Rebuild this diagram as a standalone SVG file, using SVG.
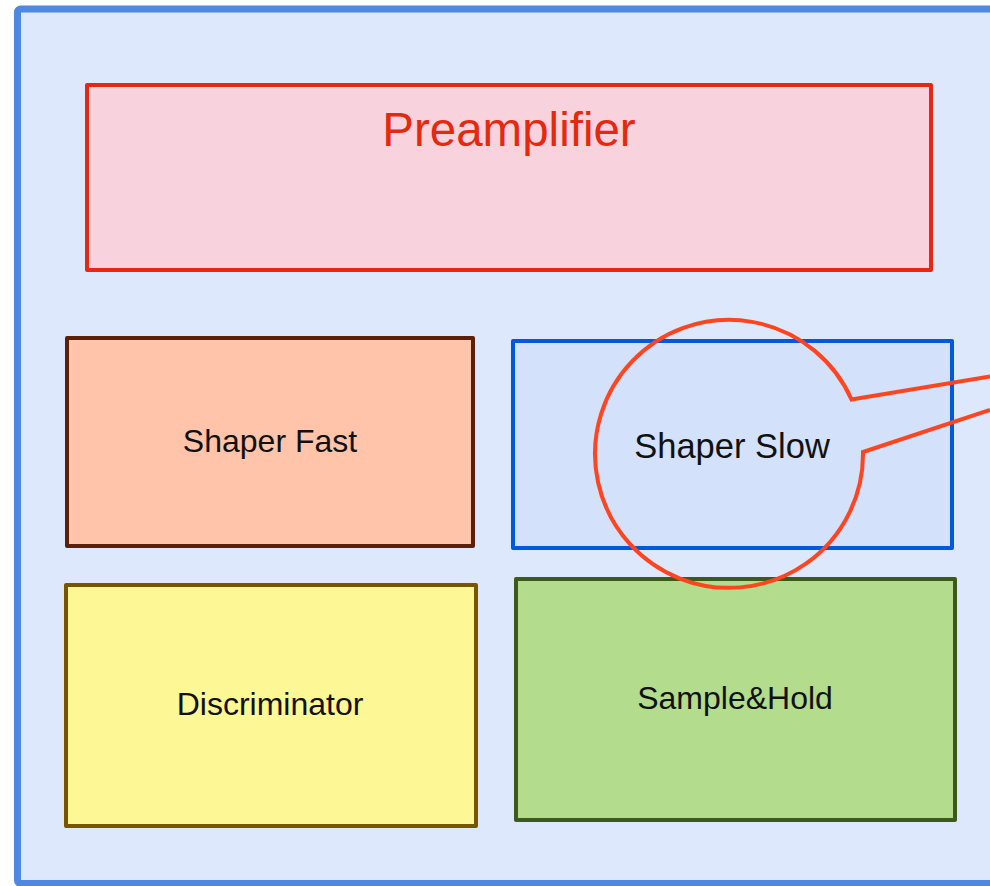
<svg xmlns="http://www.w3.org/2000/svg" width="990" height="886" viewBox="0 0 990 886">
  <style>
    .box { stroke-width: 4; stroke-linejoin: round; }
    .lbl { font-family: "Liberation Sans", Arial, sans-serif; font-size: 32px; fill: #111; text-anchor: middle; }
    .title { font-family: "Liberation Sans", Arial, sans-serif; font-size: 47.5px; fill: #e5290f; text-anchor: middle; }
    .callout { fill: none; stroke: #ff4520; stroke-width: 4; stroke-linejoin: miter; }
  </style>
  <rect width="990" height="886" fill="#ffffff"/>
  <!-- outer frame -->
  <rect x="17.5" y="9" width="990" height="874.5" rx="3" fill="#dde8fc" stroke="#4f88e0" stroke-width="7"/>

  <g id="preamplifier">
    <rect class="box" x="87" y="85" width="844" height="185" fill="#f8d3de" stroke="#e5290f"/>
    <text class="title" x="509" y="146">Preamplifier</text>
  </g>

  <g id="shaper-fast">
    <rect class="box" x="67" y="338" width="406" height="208" fill="#ffc4aa" stroke="#5c1f08"/>
    <text class="lbl" x="270" y="452">Shaper Fast</text>
  </g>

  <g id="shaper-slow">
    <rect class="box" x="513" y="341" width="439" height="207" fill="#d3e1fa" stroke="#0058dc"/>
    <text class="lbl" x="732" y="458" style="font-size:34.5px">Shaper Slow</text>
  </g>

  <g id="discriminator">
    <rect class="box" x="66" y="585" width="410" height="241" fill="#fdf795" stroke="#7a5500"/>
    <text class="lbl" x="270" y="715">Discriminator</text>
  </g>

  <g id="sample-hold">
    <rect class="box" x="516" y="579" width="439" height="241" fill="#b3dc8d" stroke="#3d5a1d"/>
    <text class="lbl" x="735" y="709">Sample&amp;Hold</text>
  </g>

  <g id="connectors">
    <!-- callout bubble around Shaper Slow, tail running off to the right -->
    <path class="callout" d="M 990 376.5 L 851.5 399.5 A 134 134 0 1 0 863 452 L 990 410"/>
  </g>
</svg>
